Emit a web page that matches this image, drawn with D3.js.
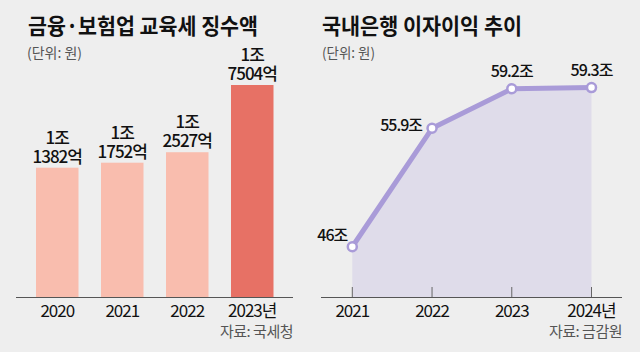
<!DOCTYPE html>
<html><head><meta charset="utf-8">
<script src="https://cdn.jsdelivr.net/npm/d3@7"></script>
<style>
html,body{margin:0;padding:0;background:#eeeeee;}
svg{display:block;}
text{font-family:"Noto Sans CJK KR","Noto Sans",sans-serif;}
</style></head>
<body>
<svg id="c" width="640" height="352"></svg>
<script>
// Left chart data
const taxYears = ["2020","2021","2022","2023년"];
const taxValues = [11382, 11752, 12527, 17504]; // 억 원
const taxLine1 = ["1조","1조","1조","1조"];
const taxLine2 = ["1382억","1752억","2527억","7504억"];
// Right chart data
const incYears = ["2021","2022","2023","2024년"];
const incValues = [46, 55.9, 59.2, 59.3]; // 조 원
const incLabels = ["46조","55.9조","59.2조","59.3조"];

const svg = d3.select("#c");
svg.append("rect").attr("width",640).attr("height",352).attr("fill","#eeeeee");

// ---------- Left chart ----------
const base = 297;
const xL = d3.scaleBand().domain(taxYears).range([23, 286.5]).paddingInner(0.346).paddingOuter(0.2);
const yL = d3.scaleLinear().domain([1811, 17504]).range([base, 85]);

svg.append("text").attr("x",28).attr("y",34).attr("font-size",22).attr("font-weight",700)
  .attr("fill","#111").attr("textLength",230).attr("lengthAdjust","spacingAndGlyphs")
  .text("금융·보험업 교육세 징수액");
svg.append("text").attr("x",27).attr("y",58).attr("font-size",14).attr("fill","#555")
  .attr("textLength",55).attr("lengthAdjust","spacingAndGlyphs").text("(단위: 원)");

svg.selectAll("rect.bar").data(taxValues).join("rect").attr("class","bar")
  .attr("x",(d,i)=>xL(taxYears[i])).attr("width",xL.bandwidth())
  .attr("y",d=>yL(d)).attr("height",d=>base-yL(d))
  .attr("fill",(d,i)=> i===3 ? "#e77165" : "#f9bdae");

const lab = svg.append("g").attr("font-size",17).attr("font-weight",500).attr("fill","#111")
  .attr("text-anchor","middle").attr("letter-spacing","-1");
taxValues.forEach((v,i)=>{
  const cx = xL(taxYears[i]) + xL.bandwidth()/2;
  const t = lab.append("text").attr("x",cx).attr("y",yL(v)-24);
  t.append("tspan").attr("x",cx).text(taxLine1[i]);
  t.append("tspan").attr("x",cx).attr("dy",19).text(taxLine2[i]);
});

svg.append("line").attr("x1",16).attr("x2",293).attr("y1",base+0.5).attr("y2",base+0.5)
  .attr("stroke","#555").attr("stroke-width",1);
svg.append("g").attr("font-size",17).attr("fill","#111").attr("text-anchor","middle").attr("letter-spacing","-1")
  .selectAll("text").data(taxYears).join("text")
  .attr("x",d=>xL(d)+xL.bandwidth()/2).attr("y",317).text(d=>d);
svg.append("text").attr("x",293).attr("y",337).attr("text-anchor","end").attr("font-size",15)
  .attr("fill","#555").attr("letter-spacing","-0.5").text("자료: 국세청");

// ---------- Right chart ----------
const xR = d3.scalePoint().domain(incYears).range([352.3, 591.5]);
const yR = d3.scaleLinear().domain([41.8, 59.3]).range([base, 87.6]);

svg.append("text").attr("x",322).attr("y",34).attr("font-size",22).attr("font-weight",700)
  .attr("fill","#111").attr("textLength",200).attr("lengthAdjust","spacingAndGlyphs")
  .text("국내은행 이자이익 추이");
svg.append("text").attr("x",322).attr("y",58).attr("font-size",14).attr("fill","#555")
  .attr("textLength",53).attr("lengthAdjust","spacingAndGlyphs").text("(단위: 원)");

const pts = incValues.map((v,i)=>[xR(incYears[i]), yR(v)]);
svg.append("path").attr("d", d3.area().x(d=>d[0]).y0(base).y1(d=>d[1])(pts)).attr("fill","#dfdcea");
svg.append("path").attr("d", d3.line()(pts)).attr("fill","none").attr("stroke","#a99bd8")
  .attr("stroke-width",5).attr("stroke-linejoin","round");

svg.append("line").attr("x1",321).attr("x2",622).attr("y1",base+0.5).attr("y2",base+0.5)
  .attr("stroke","#555").attr("stroke-width",1);
svg.append("g").selectAll("line").data(incYears).join("line")
  .attr("x1",d=>xR(d)).attr("x2",d=>xR(d)).attr("y1",287).attr("y2",base)
  .attr("stroke","#666").attr("stroke-width",1);

svg.append("g").selectAll("circle").data(pts).join("circle")
  .attr("cx",d=>d[0]).attr("cy",d=>d[1]).attr("r",4.5)
  .attr("fill","#fff").attr("stroke","#a99bd8").attr("stroke-width",2.5);

const rl = svg.append("g").attr("font-size",16).attr("font-weight",500).attr("fill","#111").attr("letter-spacing","-1");
rl.append("text").attr("x",pts[0][0]-5).attr("y",pts[0][1]-6).attr("text-anchor","end").text(incLabels[0]);
rl.append("text").attr("x",pts[1][0]-10).attr("y",pts[1][1]+3).attr("text-anchor","end").text(incLabels[1]);
rl.append("text").attr("x",pts[2][0]).attr("y",pts[2][1]-12).attr("text-anchor","middle").text(incLabels[2]);
rl.append("text").attr("x",pts[3][0]).attr("y",pts[3][1]-12).attr("text-anchor","middle").text(incLabels[3]);

svg.append("g").attr("font-size",17).attr("fill","#111").attr("text-anchor","middle").attr("letter-spacing","-1")
  .selectAll("text").data(incYears).join("text")
  .attr("x",d=>xR(d)).attr("y",317).text(d=>d);
svg.append("text").attr("x",622).attr("y",337).attr("text-anchor","end").attr("font-size",15)
  .attr("fill","#555").attr("letter-spacing","-0.5").text("자료: 금감원");
</script>
</body></html>
